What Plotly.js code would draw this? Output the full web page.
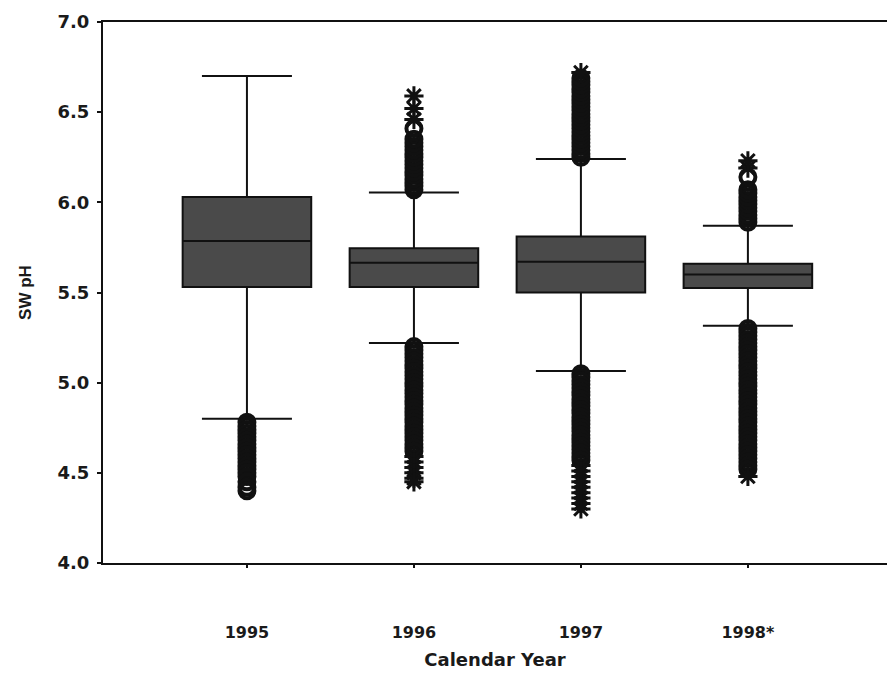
<!DOCTYPE html>
<html>
<head>
<meta charset="utf-8">
<script src="https://cdn.plot.ly/plotly-3.0.1.min.js"></script>
<style>html,body{margin:0;padding:0;background:#fff;}#chart{width:887px;height:674px;}</style>
</head>
<body>
<div id="chart"></div>
<script>
// Categories
const years = ['1995', '1996', '1997', '1998*'];
// Box statistics (SW pH)
const q1 = [5.53, 5.53, 5.50, 5.525];
const medians = [5.785, 5.665, 5.67, 5.60];
const q3 = [6.03, 5.745, 5.81, 5.66];
const lowerWhisker = [4.80, 5.22, 5.065, 5.315];
const upperWhisker = [6.70, 6.055, 6.24, 5.87];

// Outliers (circles) and extremes (stars) per year
const circles1995 = [4.78, 4.76, 4.74, 4.72, 4.70, 4.68, 4.66, 4.64, 4.62, 4.60, 4.58, 4.56, 4.54, 4.52, 4.50, 4.48, 4.45, 4.42, 4.40];
const stars1995 = [];
const circles1996 = [6.07, 6.09, 6.11, 6.13, 6.15, 6.17, 6.19, 6.21, 6.23, 6.25, 6.27, 6.29, 6.31, 6.33, 6.35, 6.41,
  5.20, 5.18, 5.16, 5.14, 5.12, 5.10, 5.08, 5.06, 5.04, 5.02, 5.00, 4.98, 4.96, 4.94, 4.92, 4.90, 4.88, 4.86, 4.84, 4.82, 4.80, 4.78, 4.76, 4.74, 4.72, 4.70, 4.68, 4.66, 4.64, 4.62];
const stars1996 = [6.59, 6.52, 6.46, 4.59, 4.56, 4.53, 4.50, 4.47, 4.45];
const circles1997 = [6.25, 6.27, 6.29, 6.31, 6.33, 6.35, 6.37, 6.39, 6.41, 6.43, 6.45, 6.47, 6.49, 6.51, 6.53, 6.55, 6.57, 6.59, 6.61, 6.63, 6.65, 6.67, 6.69,
  5.05, 5.03, 5.01, 4.99, 4.97, 4.95, 4.93, 4.91, 4.89, 4.87, 4.85, 4.83, 4.81, 4.79, 4.77, 4.75, 4.73, 4.71, 4.69, 4.67, 4.65, 4.63, 4.61, 4.59, 4.57];
const stars1997 = [6.72, 4.54, 4.51, 4.48, 4.45, 4.42, 4.39, 4.36, 4.33, 4.30];
const circles1998 = [5.89, 5.91, 5.93, 5.95, 5.97, 5.99, 6.01, 6.03, 6.05, 6.07, 6.14,
  5.30, 5.28, 5.26, 5.24, 5.22, 5.20, 5.18, 5.16, 5.14, 5.12, 5.10, 5.08, 5.06, 5.04, 5.02, 5.00, 4.98, 4.96, 4.94, 4.92, 4.90, 4.88, 4.86, 4.84, 4.82, 4.80, 4.78, 4.76, 4.74, 4.72, 4.70, 4.68, 4.66, 4.64, 4.62, 4.60, 4.58, 4.56, 4.54, 4.52];
const stars1998 = [6.19, 6.23, 4.48];

const yTickVals = [4.0, 4.5, 5.0, 5.5, 6.0, 6.5, 7.0];
const yTickText = ['4.0', '4.5', '5.0', '5.5', '6.0', '6.5', '7.0'];

const circleSets = [circles1995, circles1996, circles1997, circles1998];
const starSets = [stars1995, stars1996, stars1997, stars1998];

const boxTrace = {
  type: 'box',
  x: years,
  q1: q1,
  median: medians,
  q3: q3,
  lowerfence: lowerWhisker,
  upperfence: upperWhisker,
  boxpoints: false,
  width: 0.77,
  whiskerwidth: 0.7,
  fillcolor: '#4a4a4a',
  line: {color: '#111', width: 2},
  hoverinfo: 'skip',
  showlegend: false
};

const cx = [], cy = [], sx = [], sy = [];
years.forEach((yr, i) => {
  circleSets[i].forEach(v => { cx.push(yr); cy.push(v); });
  starSets[i].forEach(v => { sx.push(yr); sy.push(v); });
});

const circleTrace = {
  type: 'scatter', mode: 'markers', x: cx, y: cy, showlegend: false, hoverinfo: 'skip',
  marker: {symbol: 'circle-open', size: 15, color: '#111', line: {color: '#111', width: 4}}
};
const starTrace = {
  type: 'scatter', mode: 'markers', x: sx, y: sy, showlegend: false, hoverinfo: 'skip',
  marker: {symbol: 'asterisk-open', size: 16, color: '#111', line: {color: '#111', width: 3}}
};

const tickFontFamily = '"DejaVu Sans", "Liberation Sans", sans-serif';
const titleFontFamily = '"Liberation Sans", Arial, sans-serif';

const layout = {
  width: 887, height: 674,
  margin: {l: 103, r: 0, t: 22, b: 111},
  paper_bgcolor: '#ffffff', plot_bgcolor: '#ffffff',
  showlegend: false,
  xaxis: {
    type: 'category',
    categoryorder: 'array', categoryarray: years,
    range: [-0.862, 3.833],
    showline: true, linecolor: '#111', linewidth: 2, mirror: true,
    showgrid: false, zeroline: false,
    ticks: 'outside', ticklen: 3, tickwidth: 2, tickcolor: '#111',
    ticklabelstandoff: 51,
    tickfont: {family: tickFontFamily, size: 16, weight: 'bold', color: '#1a1a1a'},
    title: {text: 'Calendar Year', standoff: 12, font: {family: tickFontFamily, size: 18, weight: 'bold', color: '#1a1a1a'}}
  },
  yaxis: {
    range: [4.0, 7.0],
    tickvals: yTickVals, ticktext: yTickText,
    showline: true, linecolor: '#111', linewidth: 2,
    showgrid: false, zeroline: false,
    ticks: 'outside', ticklen: 4, tickwidth: 2, tickcolor: '#111',
    ticklabelstandoff: 4,
    tickfont: {family: tickFontFamily, size: 18, weight: 'bold', color: '#1a1a1a'},
    title: {text: 'SW pH', standoff: 22, font: {family: titleFontFamily, size: 17, weight: 'bold', color: '#1a1a1a'}}
  }
};

Plotly.newPlot('chart', [boxTrace, circleTrace, starTrace], layout, {displayModeBar: false, staticPlot: true});
</script>
</body>
</html>
